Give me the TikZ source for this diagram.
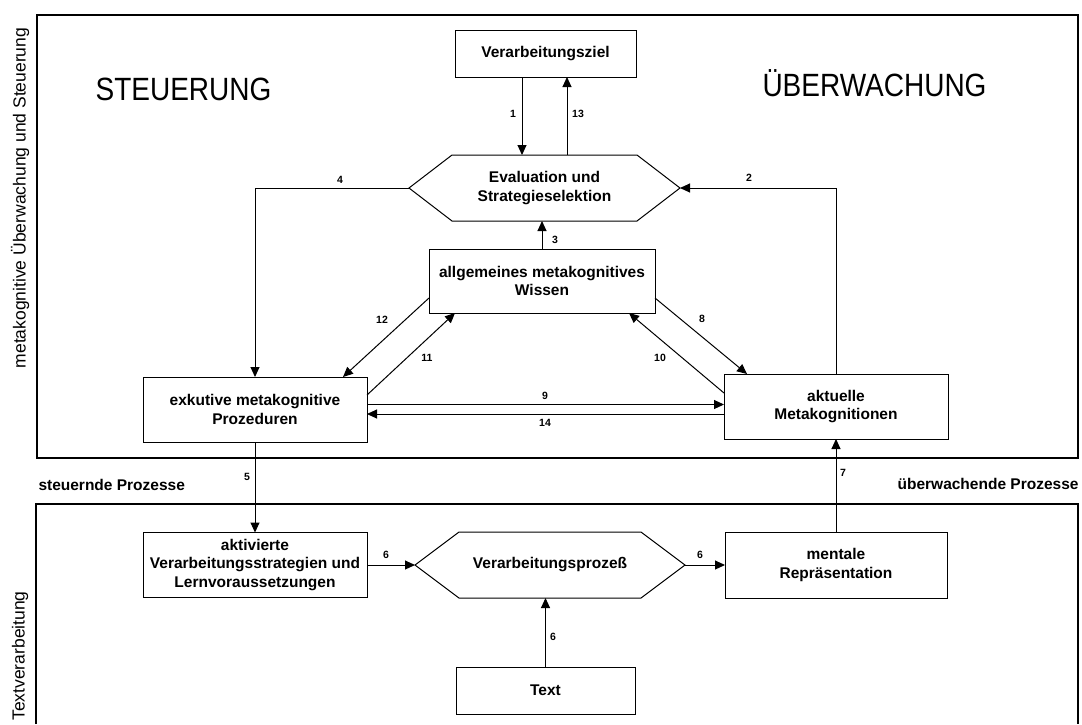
\documentclass[tikz,border=0pt]{standalone}
\usepackage{fontspec}
\usepackage{graphicx}
\setmainfont{Liberation Sans}
\usetikzlibrary{arrows.meta}

\newcommand\diagboxfont{\bfseries\fontsize{15.5}{18.5}\selectfont}
\newcommand\diagnumfont{\bfseries\fontsize{10.5}{12}\selectfont}
\newcommand\diagsidefont{\fontsize{17.5}{20}\selectfont}
\newcommand\diagtitlefont{\fontsize{28}{32}\selectfont}

\begin{document}
\begin{tikzpicture}[x=1pt,y=-1pt,line width=1pt,
  box/.style={draw, rectangle, inner sep=0pt, outer sep=0pt, align=center, font=\diagboxfont},
  hexcore/.style={rectangle, inner sep=0pt, outer sep=0pt, align=center, font=\diagboxfont},
  arr/.style={-{Triangle[length=10pt,width=9pt]}},
  num/.style={font=\diagnumfont, inner sep=0pt},
  lane/.style={font=\diagboxfont, inner sep=0pt},
  side/.style={font=\diagsidefont, inner sep=0pt, rotate=90},
  title/.style={font=\diagtitlefont, inner sep=0pt},
  frame/.style={line width=1.1pt}]

\useasboundingbox[fill=white] (0,0) rectangle (1082,724);

% regions
\draw[frame] (37,15) rectangle (1078,458);
\draw[frame] (36,724) -- (36,504) -- (1078,504) -- (1078,724);

% side and lane captions
\node[side] (sideA) at (20,198) {metakognitive Überwachung und Steuerung};
\node[side] (sideB) at (20,656) {Textverarbeitung};
\node[lane, anchor=west] (laneL) at (38,485) {steuernde Prozesse};
\node[lane, anchor=east] (laneR) at (1079,484) {überwachende Prozesse};
\node[title, anchor=base] (tL) at (183.5,100) {\scalebox{1}[1.15]{STEUERUNG}};
\node[title, anchor=base] (tR) at (874.5,96) {\scalebox{1}[1.15]{ÜBERWACHUNG}};

% upper part
\node[box, minimum width=181pt, minimum height=47pt] (goal) at (545.5,53.5) {Verarbeitungsziel};

\node[hexcore, minimum width=185pt, minimum height=66pt] (ev) at (544.5,188) {Evaluation und\\Strategieselektion};
\coordinate (evL) at ([xshift=-43pt]ev.west);
\coordinate (evR) at ([xshift=43pt]ev.east);
\draw (ev.north west) -- (ev.north east) -- (evR) -- (ev.south east) -- (ev.south west) -- (evL) -- cycle;

\node[box, minimum width=226pt, minimum height=64pt] (know) at (542,281) {allgemeines metakognitives\\Wissen};
\node[box, minimum width=224pt, minimum height=65pt] (exec) at (255,409.5) {exkutive metakognitive\\Prozeduren};
\node[box, minimum width=224pt, minimum height=65pt] (akt) at (836,406.5) {aktuelle\\Metakognitionen};

% lower part
\node[box, minimum width=224pt, minimum height=65pt] (aktiv) at (255,565) {aktivierte\\Verarbeitungsstrategien und\\Lernvoraussetzungen};

\node[hexcore, minimum width=182pt, minimum height=66pt] (hx) at (550,565) {Verarbeitungsprozeß};
\coordinate (hxL) at ([xshift=-44pt]hx.west);
\coordinate (hxR) at ([xshift=44pt]hx.east);
\draw (hx.north west) -- (hx.north east) -- (hxR) -- (hx.south east) -- (hx.south west) -- (hxL) -- cycle;

\node[box, minimum width=222pt, minimum height=66pt] (ment) at (836,565) {mentale\\Repräsentation};
\node[box, minimum width=179pt, minimum height=47pt] (txt) at (545.5,690.5) {Text};

% connectors
\draw[arr] ([xshift=-23.5pt]goal.south) -- ([xshift=-23.5pt]goal.south |- ev.north);
\draw[arr] ([xshift=21.5pt]goal.south |- ev.north) -- ([xshift=21.5pt]goal.south);
\draw[arr] (evR -| akt.north) -- (evR);
\draw (akt.north) -- (evR -| akt.north);
\draw[arr] (evL) -| (exec.north);
\draw[arr] (know.north) -- (know.north |- ev.south);
\draw[arr] ([yshift=-17pt]know.west) -- ([xshift=88pt]exec.north);
\draw[arr] ([yshift=14.5pt]exec.east) -- ([xshift=-87pt]know.south);
\draw[arr] ([yshift=-17pt]know.east) -- ([xshift=-89pt]akt.north);
\draw[arr] ([yshift=13.5pt]akt.west) -- ([xshift=87pt]know.south);
\draw[arr] ([yshift=5pt]exec.east) -- ([yshift=5pt]exec.east -| akt.west);
\draw[arr] ([yshift=-4.5pt]exec.east -| akt.west) -- ([yshift=-4.5pt]exec.east);
\draw[arr] (exec.south) -- (aktiv.north);
\draw[arr] (ment.north) -- (akt.south);
\draw[arr] (aktiv.east) -- (hxL);
\draw[arr] (hxR) -- (ment.west);
\draw[arr] (txt.north) -- (txt.north |- hx.south);

% connector numbers
\node[num] (n1) at (513,114) {1};
\node[num] (n13) at (578,114) {13};
\node[num] (n4) at (340,180) {4};
\node[num] (n2) at (749,178) {2};
\node[num] (n3) at (555,240) {3};
\node[num] (n12) at (382,320) {12};
\node[num] (n11) at (427,358) {11};
\node[num] (n8) at (702,319) {8};
\node[num] (n10) at (660,358) {10};
\node[num] (n9) at (545,396) {9};
\node[num] (n14) at (545,423) {14};
\node[num] (n5) at (247,477) {5};
\node[num] (n7) at (843,473) {7};
\node[num] (n6a) at (386,555) {6};
\node[num] (n6b) at (700,555) {6};
\node[num] (n6c) at (553,637) {6};
\end{tikzpicture}
\end{document}
